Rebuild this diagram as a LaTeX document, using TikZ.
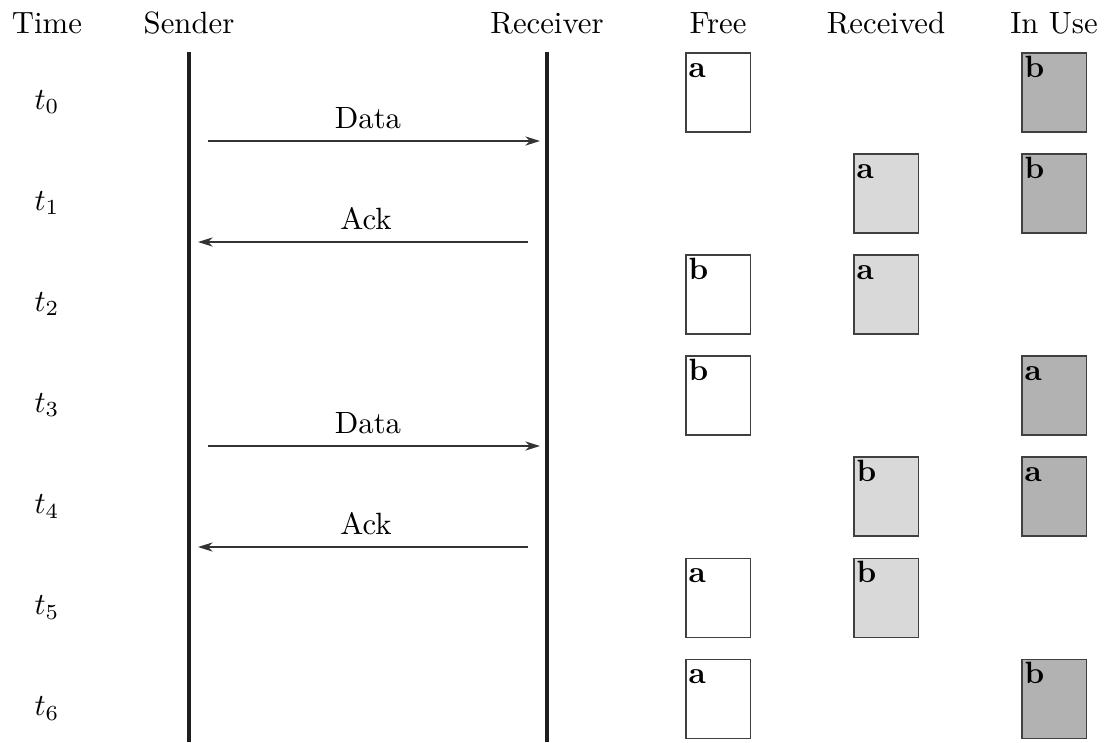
\documentclass[tikz,border=0pt]{standalone}
\usetikzlibrary{arrows.meta}
\definecolor{recvfill}{gray}{0.85}
\definecolor{usefill}{gray}{0.70}
\definecolor{boxline}{gray}{0.25}
\tikzset{
  head/.style={anchor=base, inner sep=0pt},
  timelbl/.style={anchor=base, inner sep=0pt},
  lifeline/.style={line width=1.6pt, draw=black!88},
  msg/.style={line width=0.4pt, draw=black!80, -{Stealth[length=4.8pt,width=3pt]}},
  msglbl/.style={anchor=base, inner sep=0pt},
  bufbox/.style={draw=boxline, line width=0.5pt, minimum width=21.1pt, minimum height=25.7pt, inner sep=0pt, anchor=north west},
  freebox/.style={bufbox, fill=white},
  recvbox/.style={bufbox, fill=recvfill},
  usebox/.style={bufbox, fill=usefill},
  tag/.style={anchor=base west, inner sep=0pt, font=\bfseries},
}
\begin{document}
\begin{tikzpicture}[x=0.325pt,y=-0.325pt]
\useasboundingbox (0,0) rectangle (1104,742);

% column headings
\node[head] (hTime) at (47,33) {Time};
\node[head] (hSend) at (189,33) {Sender};
\node[head] (hRecv) at (547,33) {Receiver};
\node[head] (hFree) at (718,33) {Free};
\node[head] (hRcvd) at (886,33) {Received};
\node[head] (hUse)  at (1054,33) {In Use};

% time steps
\foreach \k in {0,...,6}
  \node[timelbl] (t\k) at (47,{109+101.1*\k}) {$t_{\k}$};

% life lines
\coordinate (sTop) at (189,52);
\coordinate (sBot) at (189,742);
\coordinate (rTop) at (547,52);
\coordinate (rBot) at (547,742);
\draw[lifeline] (sTop) -- (sBot);
\draw[lifeline] (rTop) -- (rBot);

% messages
\coordinate (d1a) at (208,141);  \coordinate (d1b) at (540,141);
\coordinate (a1a) at (528,242);  \coordinate (a1b) at (198,242);
\coordinate (d2a) at (208,446);  \coordinate (d2b) at (540,446);
\coordinate (a2a) at (528,547);  \coordinate (a2b) at (198,547);
\draw[msg] (d1a) -- (d1b);
\draw[msg] (a1a) -- (a1b);
\draw[msg] (d2a) -- (d2b);
\draw[msg] (a2a) -- (a2b);
\node[msglbl] (ld1) at (368,128) {Data};
\node[msglbl] (la1) at (366,229) {Ack};
\node[msglbl] (ld2) at (368,433) {Data};
\node[msglbl] (la2) at (366,534) {Ack};

% buffers: row, column style, x, letter
\foreach \r/\sty/\x/\l in {
  0/freebox/685/a, 0/usebox/1021/b,
  1/recvbox/853/a, 1/usebox/1021/b,
  2/freebox/685/b, 2/recvbox/853/a,
  3/freebox/685/b, 3/usebox/1021/a,
  4/recvbox/853/b, 4/usebox/1021/a,
  5/freebox/685/a, 5/recvbox/853/b,
  6/freebox/685/a, 6/usebox/1021/b}
{
  \node[\sty] (b\r-\x) at (\x,{52+101.1*\r}) {};
  \node[tag] (l\r-\x) at ([shift={(3,25)}]b\r-\x.north west) {\l};
}
\end{tikzpicture}
\end{document}
